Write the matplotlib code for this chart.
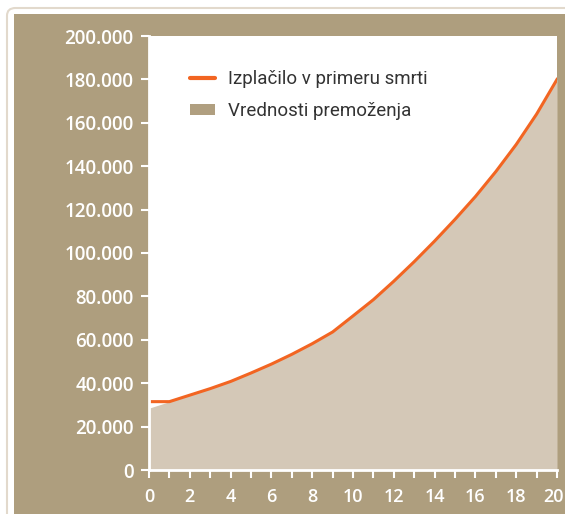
import numpy as np
import matplotlib.pyplot as plt
import matplotlib.transforms as mtransforms
from matplotlib.patches import FancyBboxPatch, Rectangle
from matplotlib.lines import Line2D
from matplotlib.ticker import FuncFormatter, MultipleLocator

# years
years = [0, 1, 2, 3, 4, 5, 6, 7, 8, 9, 10, 11, 12, 13, 14, 15, 16, 17, 18, 19, 20]
# death benefit (line)
izplacilo = [31500, 31500, 34500, 37500, 40800, 44700, 48800, 53300, 58200, 63600, 71000,
             78500, 87000, 96000, 105500, 115500, 126000, 137500, 150000, 164000, 180000]
# asset value (area)
premozenje = [28500, 31500, 34500, 37500, 40800, 44700, 48800, 53300, 58200, 63600, 71000,
              78500, 87000, 96000, 105500, 115500, 126000, 137500, 150000, 164000, 180000]

labels = ['Izplačilo v primeru smrti', 'Vrednosti premoženja']

tan = '#ae9e7e'
fill_col = '#d4c8b7'
orange = '#f26522'

plt.rcParams['font.family'] = ['Open Sans', 'DejaVu Sans']

fig = plt.figure(figsize=(5.65, 5.14), dpi=100)
fig.patch.set_facecolor('white')

# outer rounded frame + tan panel (behind the axes)
frame = FancyBboxPatch((7/565, -0.1), 1.2, (514-8)/514 + 0.1,
                       boxstyle='round,pad=0,rounding_size=0.015',
                       transform=fig.transFigure, facecolor='white',
                       edgecolor='#e2d9cc', linewidth=1.5, zorder=-2)
fig.patches.append(frame)
panel = Rectangle((14/565, -0.1), 1.2, (514-14)/514 + 0.1,
                  transform=fig.transFigure, facecolor=tan, edgecolor='none', zorder=-1)
fig.patches.append(panel)

ax = fig.add_axes([149/565, 1-470/514, (557-149)/565, (470-36)/514])
ax.set_facecolor('white')

ax.fill_between(years, premozenje, 0, color=fill_col, linewidth=0, zorder=2)
ax.plot(years, izplacilo, color=orange, linewidth=2.2, zorder=3)

ax.set_xlim(0, 20)
ax.set_ylim(0, 200000)
ax.xaxis.set_major_locator(MultipleLocator(2))
ax.xaxis.set_minor_locator(MultipleLocator(1))
ax.yaxis.set_major_locator(MultipleLocator(20000))
ax.yaxis.set_major_formatter(FuncFormatter(lambda v, p: '0' if v == 0 else f'{int(v):,}'.replace(',', '.')))

for s in ['top', 'right']:
    ax.spines[s].set_visible(False)
for s in ['left', 'bottom']:
    ax.spines[s].set_color('white')
    ax.spines[s].set_linewidth(2)
    ax.spines[s].set_zorder(5)

ax.tick_params(axis='both', which='both', colors='white', width=1.5, direction='out')
ax.tick_params(axis='y', which='major', length=6, labelsize=13.5, pad=5)
ax.tick_params(axis='x', which='major', length=6, labelsize=13, pad=7)
ax.tick_params(axis='x', which='minor', length=6)

handles = [Line2D([0], [0], color=orange, linewidth=3, solid_capstyle='round'),
           Rectangle((0, 0), 1, 1, facecolor='#b09f80', edgecolor='none')]
leg = ax.legend(handles, labels, loc='upper left', bbox_to_anchor=(0.06, 0.96),
                frameon=False, prop={'family': ['Roboto', 'DejaVu Sans'], 'size': 13.5},
                handlelength=1.3, handleheight=0.5,
                handletextpad=0.7, labelspacing=0.75)
for t in leg.get_texts():
    t.set_color('#333333')

fig.canvas.draw()
for t in ax.get_xticklabels() + ax.get_yticklabels():
    t.set_fontweight('semibold')
# last x label sits against the right edge
for t in ax.get_xticklabels():
    if t.get_text() == '20':
        t.set_transform(t.get_transform() + mtransforms.ScaledTranslation(-4/100, 0, fig.dpi_scale_trans))

fig.savefig('out.png', dpi=100, facecolor=fig.get_facecolor())
